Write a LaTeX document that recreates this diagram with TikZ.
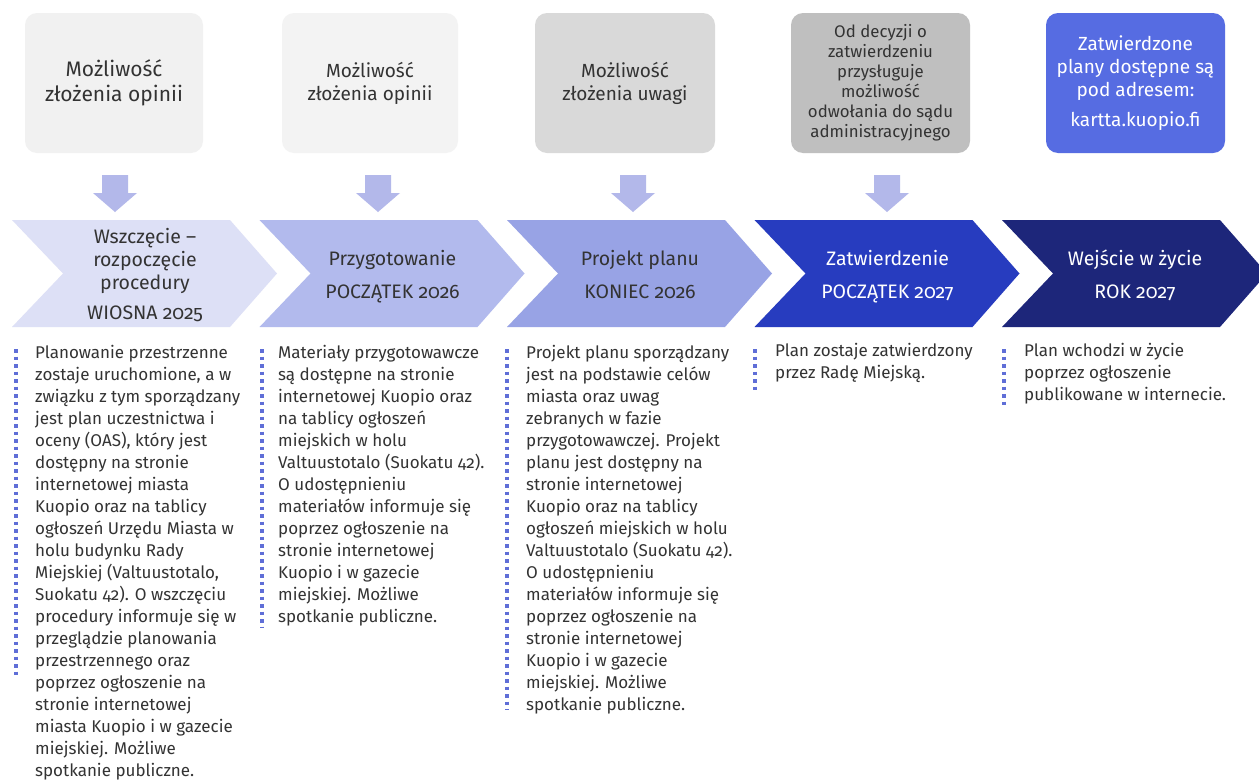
\documentclass[tikz,border=0pt]{standalone}
\usepackage{fontspec}
\setmainfont{Fira Sans}[Numbers=OldStyle]
\definecolor{boxA}{RGB}{241,241,241}
\definecolor{boxB}{RGB}{243,243,243}
\definecolor{boxC}{RGB}{217,217,217}
\definecolor{boxD}{RGB}{191,191,191}
\definecolor{boxE}{RGB}{86,108,226}
\definecolor{arrowc}{RGB}{179,184,234}
\definecolor{chA}{RGB}{221,224,246}
\definecolor{chB}{RGB}{178,186,237}
\definecolor{chC}{RGB}{152,163,229}
\definecolor{chD}{RGB}{39,60,191}
\definecolor{chE}{RGB}{29,38,122}
\definecolor{dotc}{RGB}{95,110,215}
\definecolor{txt}{RGB}{51,51,51}
\tikzset{
  topbox/.style={rounded corners=12pt, inner sep=0pt, minimum height=140pt, align=center, text=txt},
  downarrow/.style={fill=arrowc},
  chtext/.style={align=center, inner sep=0pt, font=\fontsize{19.5}{23}\selectfont},
  body/.style={anchor=north west, align=left, inner sep=0pt, text=txt, font=\fontsize{17}{22}\selectfont},
  dotline/.style={draw=dotc, line width=3.5pt, dash pattern=on 3.5pt off 4pt}
}
\begin{document}
\begin{tikzpicture}[x=1pt,y=-1pt]
\useasboundingbox (0,0) rectangle (1259,782);
\clip (0,0) rectangle (1259,782);
\fill[white] (0,0) rectangle (1259,782);

% top boxes
\node[topbox, fill=boxA, minimum width=178pt, font=\fontsize{21}{25}\selectfont] (b1) at (114,83) {Możliwość\\złożenia opinii};
\node[topbox, fill=boxB, minimum width=176pt, font=\fontsize{19}{23}\selectfont] (b2) at (370,83) {Możliwość\\złożenia opinii};
\node[topbox, fill=boxC, minimum width=180pt, font=\fontsize{19}{23}\selectfont] (b3) at (625,83) {Możliwość\\złożenia uwagi};
\node[topbox, fill=boxD, minimum width=179pt, font=\fontsize{16.8}{20}\selectfont] (b4) at (880.5,83) {Od decyzji o\\zatwierdzeniu\\przysługuje\\możliwość\\odwołania do sądu\\administracyjnego};
\node[topbox, fill=boxE, minimum width=179pt, text=white, font=\fontsize{19}{23}\selectfont] (b5) at (1135.5,83) {Zatwierdzone\\plany dostępne są\\pod adresem:\\[7pt]kartta.kuopio.fi};

% down arrows (top centre points)
\foreach \n/\x in {a1/115, a2/378, a3/633, a4/887}{
  \coordinate (\n) at (\x,175);
  \fill[downarrow] (\n) ++(-13,0) -- ++(26,0) -- ++(0,18) -- ++(9,0) -- ++(-22,19) -- ++(-22,-19) -- ++(9,0) -- cycle;
}

% chevrons
\foreach \x/\c in {12/chA, 259.5/chB, 507/chC, 754.5/chD, 1002/chE}{
  \fill[\c] (\x,220) -- (\x+218,220) -- (\x+265,273.5) -- (\x+218,327) -- (\x,327) -- (\x+51,273.5) -- cycle;
}
\node[chtext, text=txt] (c1) at (145,275) {Wszczęcie –\\rozpoczęcie\\procedury\\[7pt]WIOSNA 2025};
\node[chtext, text=txt] (c2) at (392.5,277) {Przygotowanie\\[10pt]POCZĄTEK 2026};
\node[chtext, text=txt] (c3) at (640,274.5) {Projekt planu\\[10pt]KONIEC 2026};
\node[chtext, text=white] (c4) at (887.5,277) {Zatwierdzenie\\[10pt]POCZĄTEK 2027};
\node[chtext, text=white] (c5) at (1135,275) {Wejście w życie\\[10pt]ROK 2027};

% dotted lines
\draw[dotline] (16,349) -- (16,676);
\draw[dotline] (262,349) -- (262,627);
\draw[dotline] (507,349) -- (507,710);
\draw[dotline] (755,349) -- (755,390);
\draw[dotline] (1004,349) -- (1004,405);

% body texts
\node[body] (t1) at (35,345) {Planowanie przestrzenne\\zostaje uruchomione, a w\\związku z tym sporządzany\\jest plan uczestnictwa i\\oceny (OAS), który jest\\dostępny na stronie\\internetowej miasta\\Kuopio oraz na tablicy\\ogłoszeń Urzędu Miasta w\\holu budynku Rady\\Miejskiej (Valtuustotalo,\\Suokatu 42). O wszczęciu\\procedury informuje się w\\przeglądzie planowania\\przestrzennego oraz\\poprzez ogłoszenie na\\stronie internetowej\\miasta Kuopio i w gazecie\\miejskiej. Możliwe\\spotkanie publiczne.};
\node[body] (t2) at (278,345) {Materiały przygotowawcze\\są dostępne na stronie\\internetowej Kuopio oraz\\na tablicy ogłoszeń\\miejskich w holu\\Valtuustotalo (Suokatu 42).\\O udostępnieniu\\materiałów informuje się\\poprzez ogłoszenie na\\stronie internetowej\\Kuopio i w gazecie\\miejskiej. Możliwe\\spotkanie publiczne.};
\node[body] (t3) at (526,345) {Projekt planu sporządzany\\jest na podstawie celów\\miasta oraz uwag\\zebranych w fazie\\przygotowawczej. Projekt\\planu jest dostępny na\\stronie internetowej\\Kuopio oraz na tablicy\\ogłoszeń miejskich w holu\\Valtuustotalo (Suokatu 42).\\O udostępnieniu\\materiałów informuje się\\poprzez ogłoszenie na\\stronie internetowej\\Kuopio i w gazecie\\miejskiej. Możliwe\\spotkanie publiczne.};
\node[body] (t4) at (775,343) {Plan zostaje zatwierdzony\\przez Radę Miejską.};
\node[body] (t5) at (1024,343) {Plan wchodzi w życie\\poprzez ogłoszenie\\publikowane w internecie.};
\end{tikzpicture}
\end{document}
